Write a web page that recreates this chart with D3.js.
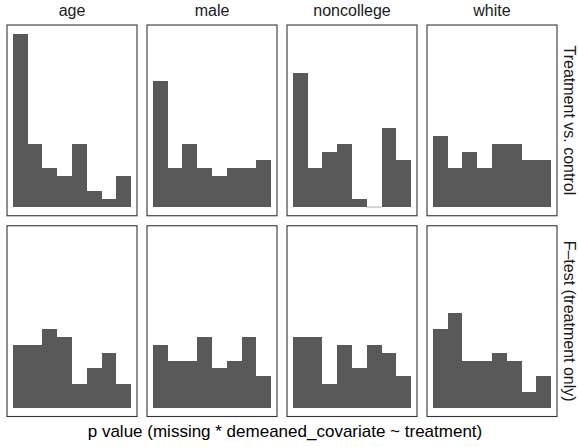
<!DOCTYPE html>
<html>
<head>
<meta charset="utf-8">
<script src="https://cdn.jsdelivr.net/npm/d3@7"></script>
<style>
  html, body { margin: 0; padding: 0; background: #ffffff; }
  svg { display: block; }
  text { font-family: "Liberation Sans", Arial, Helvetica, sans-serif; }
</style>
</head>
<body>
<svg id="chart" width="578" height="447"></svg>
<script>
// Facet columns (covariates) and rows (test type)
const covariates = ["age", "male", "noncollege", "white"];
const tests = ["Treatment vs. control", "F\u2013test (treatment only)"];

// Histogram bin edges on the p-value axis (8 equal bins)
const binEdges = [0, 0.125, 0.25, 0.375, 0.5, 0.625, 0.75, 0.875, 1];

// Counts per bin, row "Treatment vs. control"
const treatAge        = [22, 8, 5, 4, 8, 2, 1, 4];
const treatMale       = [16, 5, 8, 5, 4, 5, 5, 6];
const treatNoncollege = [17, 5, 7, 8, 1, 0, 10, 6];
const treatWhite      = [9, 5, 7, 5, 8, 8, 6, 6];

// Counts per bin, row "F-test (treatment only)"
const fAge        = [8, 8, 10, 9, 3, 5, 7, 3];
const fMale       = [8, 6, 6, 9, 5, 6, 9, 4];
const fNoncollege = [9, 9, 3, 8, 5, 8, 7, 4];
const fWhite      = [10, 12, 6, 6, 7, 6, 2, 4];

const xTitle = "p value (missing * demeaned_covariate ~ treatment)";

const countsByRow = [
  [treatAge, treatMale, treatNoncollege, treatWhite],
  [fAge, fMale, fNoncollege, fWhite]
];

// Layout
const plotLeft = 7, plotRight = 557, plotTop = 25, plotBottom = 416.5;
const gapX = 10, gapY = 10;
const nCol = covariates.length, nRow = tests.length;
const panelW = (plotRight - plotLeft - gapX * (nCol - 1)) / nCol;
const panelH = (plotBottom - plotTop - gapY * (nRow - 1)) / nRow;

const svg = d3.select("#chart");

// Shared scales with 5% expansion on both sides
const xDomain = [binEdges[0], binEdges[binEdges.length - 1]];
const xPad = (xDomain[1] - xDomain[0]) * 0.05;
const x = d3.scaleLinear()
  .domain([xDomain[0] - xPad, xDomain[1] + xPad])
  .range([0, panelW]);

const maxCount = d3.max(countsByRow.flat(2));
const yPad = maxCount * 0.05;
const y = d3.scaleLinear()
  .domain([-yPad, maxCount + yPad])
  .range([panelH, 0]);

const barColor = "#595959";

countsByRow.forEach((rowCounts, r) => {
  rowCounts.forEach((counts, c) => {
    const px = plotLeft + c * (panelW + gapX);
    const py = plotTop + r * (panelH + gapY);
    const g = svg.append("g").attr("transform", `translate(${px},${py})`);

    g.append("rect")
      .attr("x", 0).attr("y", 0)
      .attr("width", panelW).attr("height", panelH)
      .attr("fill", "#ffffff");

    const bins = counts.map((n, i) => ({ x0: binEdges[i], x1: binEdges[i + 1], n }));

    // Non-empty bins as filled bars (crisp edges so neighbours join without seams)
    g.selectAll("rect.bar")
      .data(bins.filter(d => d.n > 0))
      .join("rect")
      .attr("class", "bar")
      .attr("x", d => x(d.x0))
      .attr("width", d => x(d.x1) - x(d.x0))
      .attr("y", d => y(d.n))
      .attr("height", d => y(0) - y(d.n))
      .attr("fill", barColor)
      .attr("shape-rendering", "crispEdges");

    // Empty bins collapse to a hairline on the baseline
    g.selectAll("line.empty")
      .data(bins.filter(d => d.n === 0))
      .join("line")
      .attr("class", "empty")
      .attr("x1", d => x(d.x0))
      .attr("x2", d => x(d.x1))
      .attr("y1", y(0))
      .attr("y2", y(0))
      .attr("stroke", barColor)
      .attr("stroke-opacity", 0.6)
      .attr("stroke-width", 0.8);

    g.append("rect")
      .attr("x", 0).attr("y", 0)
      .attr("width", panelW).attr("height", panelH)
      .attr("fill", "none")
      .attr("stroke", "#333333")
      .attr("stroke-width", 1.1);
  });
});

// Column strip labels
covariates.forEach((name, c) => {
  svg.append("text")
    .attr("x", plotLeft + c * (panelW + gapX) + panelW / 2)
    .attr("y", 16)
    .attr("text-anchor", "middle")
    .attr("font-size", 16)
    .attr("fill", "#1a1a1a")
    .text(name);
});

// Row strip labels (rotated, reading downward)
tests.forEach((name, r) => {
  const cy = plotTop + r * (panelH + gapY) + panelH / 2;
  svg.append("text")
    .attr("transform", `translate(563.5,${cy}) rotate(90)`)
    .attr("text-anchor", "middle")
    .attr("font-size", 16)
    .attr("fill", "#1a1a1a")
    .text(name);
});

// X axis title
svg.append("text")
  .attr("x", (plotLeft + plotRight) / 2 + 3)
  .attr("y", 437)
  .attr("text-anchor", "middle")
  .attr("font-size", 17)
  .attr("fill", "#000000")
  .text(xTitle);
</script>
</body>
</html>
